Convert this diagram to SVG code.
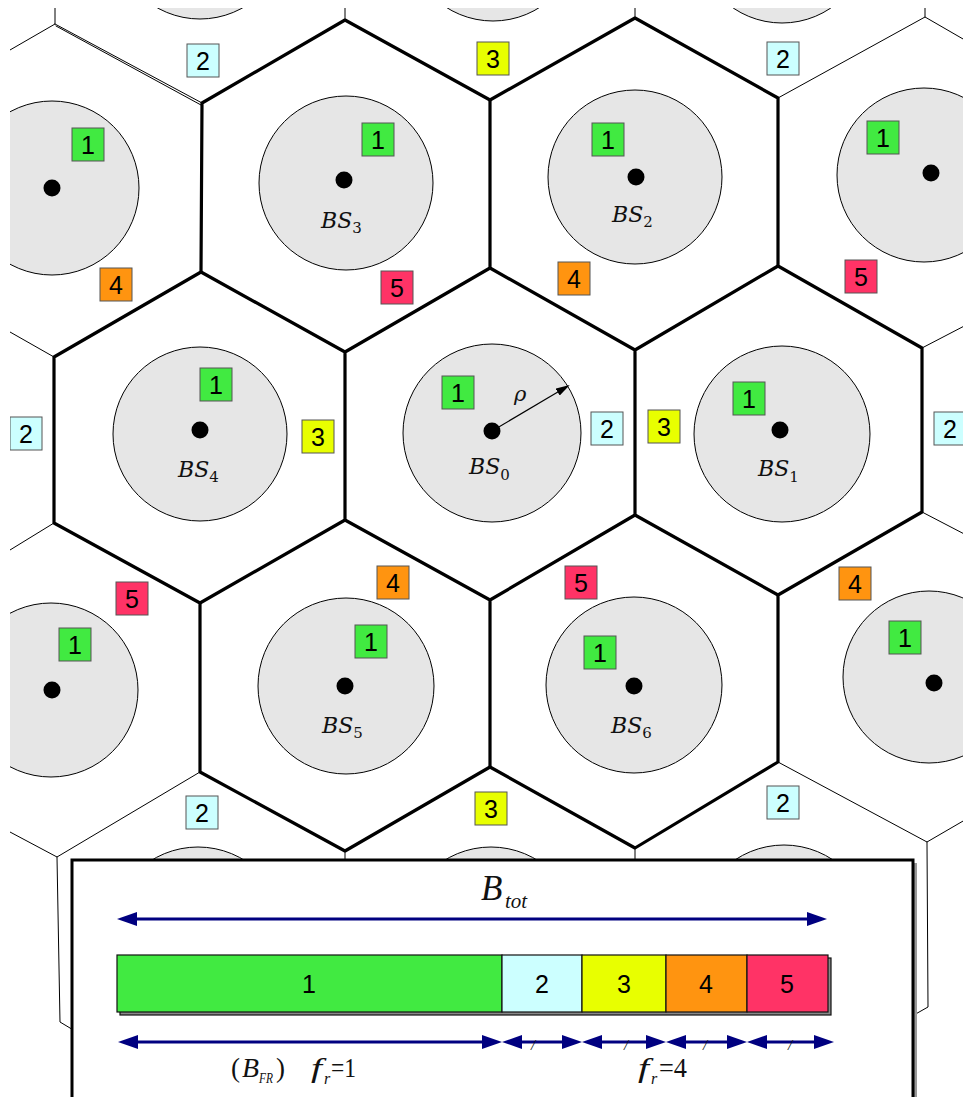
<svg xmlns="http://www.w3.org/2000/svg" width="963" height="1097" viewBox="0 0 963 1097">
<style>
.cell{fill:#e6e6e6;stroke:#000;stroke-width:1}
.dot{fill:#000}
.thick{fill:none;stroke:#000;stroke-width:3.2;stroke-linejoin:round;stroke-linecap:round}
.thin{fill:none;stroke:#000;stroke-width:1;stroke-linecap:round}
.sq rect{stroke:#555;stroke-width:1}
.sq text{font-family:"Liberation Sans",Arial,sans-serif;font-size:25px;text-anchor:middle;fill:#000}
.c1{fill:#41ea41}.c2{fill:#ccffff}.c3{fill:#e8ff00}.c4{fill:#ff9410}.c5{fill:#ff3366}
.bs{font-family:"DejaVu Serif",serif;font-size:22px;font-style:italic;fill:#111}
.bs tspan{font-style:normal;font-size:15px}
.nav{stroke:#000080;stroke-width:3;fill:none}
.serif{font-family:"Liberation Serif","Times New Roman",serif;fill:#111}
.bar rect{stroke:#111;stroke-width:1.2}
.bar text{font-family:"Liberation Sans",Arial,sans-serif;font-size:25px;text-anchor:middle;fill:#000}
</style>
<defs>
<clipPath id="clip"><rect x="10" y="8" width="953" height="1089"/></clipPath>
<marker id="na" viewBox="0 0 20 14" refX="10" refY="7" markerWidth="20" markerHeight="14" markerUnits="userSpaceOnUse" orient="auto-start-reverse"><path d="M0,0 L20,7 L0,14 Z" fill="#000080"/></marker>
<marker id="ka" viewBox="0 0 14 8" refX="12" refY="4" markerWidth="14" markerHeight="8" markerUnits="userSpaceOnUse" orient="auto"><path d="M0,0 L14,4 L0,8 Z" fill="#000"/></marker>
</defs>
<rect width="963" height="1097" fill="#fff"/>
<g clip-path="url(#clip)">
<g id="cells">
<g id="cell-top-1"><circle class="cell" cx="200" cy="-68" r="87"/></g>
<g id="cell-top-2"><circle class="cell" cx="493" cy="-66" r="87"/></g>
<g id="cell-top-3"><circle class="cell" cx="782" cy="-64" r="87"/></g>
<g id="cell-r2-left"><circle class="cell" cx="52" cy="188" r="87"/><circle class="dot" cx="52" cy="188" r="8.5"/></g>
<g id="BS3"><circle class="cell" cx="346" cy="183" r="87"/><circle class="dot" cx="344" cy="180" r="8.5"/><text class="bs" x="321" y="228">BS<tspan dy="5">3</tspan></text></g>
<g id="BS2"><circle class="cell" cx="635" cy="177" r="87"/><circle class="dot" cx="636" cy="177" r="8.5"/><text class="bs" x="612" y="222">BS<tspan dy="5">2</tspan></text></g>
<g id="cell-r2-right"><circle class="cell" cx="924" cy="175" r="87"/><circle class="dot" cx="931" cy="173" r="8.5"/></g>
<g id="BS4"><circle class="cell" cx="200" cy="434" r="87"/><circle class="dot" cx="200" cy="430" r="8.5"/><text class="bs" x="178" y="477">BS<tspan dy="5">4</tspan></text></g>
<g id="BS0"><circle class="cell" cx="492" cy="433" r="89"/><circle class="dot" cx="492" cy="431" r="8.5"/><text class="bs" x="469" y="474">BS<tspan dy="6">0</tspan></text></g>
<g id="BS1"><circle class="cell" cx="782" cy="434" r="88"/><circle class="dot" cx="780" cy="430" r="8.5"/><text class="bs" x="758" y="476">BS<tspan dy="6">1</tspan></text></g>
<g id="cell-r4-left"><circle class="cell" cx="51" cy="690" r="87"/><circle class="dot" cx="52" cy="690" r="8.5"/></g>
<g id="BS5"><circle class="cell" cx="346" cy="686" r="88"/><circle class="dot" cx="345" cy="686" r="8.5"/><text class="bs" x="322" y="733">BS<tspan dy="5">5</tspan></text></g>
<g id="BS6"><circle class="cell" cx="634" cy="685" r="88"/><circle class="dot" cx="634" cy="686" r="8.5"/><text class="bs" x="611" y="733">BS<tspan dy="5">6</tspan></text></g>
<g id="cell-r4-right"><circle class="cell" cx="929" cy="677" r="86"/><circle class="dot" cx="934" cy="683" r="8.5"/></g>
<g id="cell-bot-1"><circle class="cell" cx="198" cy="935" r="88"/></g>
<g id="cell-bot-2"><circle class="cell" cx="491" cy="935" r="88"/></g>
<g id="cell-bot-3"><circle class="cell" cx="784" cy="933" r="88"/></g>
</g>
<g id="connectors">
<path class="thin" d="M10,50 L55,24 L55,4 M55,24 L202,103 M56,26 L201,105 M345,20 L345,4 M635,18 L635,4 M925,17 L925,4 M778,98 L925,17 L970,43 M54,357 L10,332 M54,523 L10,550 M922,348 L970,323 M922,512 L970,537"/>
<path class="thin" d="M200,772 L57,857 L10,832 M57,857 L60,1022 L80,1034 M345,851 L345,870 M635,848 L635,870 M778,762 L927,842 L970,817 M927,842 L928,1007 L905,1020"/>
<path class="thick" d="M202,103 L345,20 L490,100 L635,18 L778,98 L778,266 L922,348 L922,512 L778,595 L778,762 L635,848 L490,767 L345,851 L200,772 L200,603 L54,523 L54,357 L201,272 L202,103"/>
<path class="thick" d="M490,100 L490,268 L345,352 L201,272 M490,268 L635,350 L778,266 M345,352 L345,520 L200,603 M635,350 L635,515 L778,595 M345,520 L490,600 L635,515 M490,600 L490,767"/>
</g>
<g id="labels">
<g class="sq"><rect class="c2" x="187" y="44" width="32" height="33"/><text x="203" y="70">2</text></g>
<g class="sq"><rect class="c3" x="477" y="42" width="32" height="33"/><text x="493" y="68">3</text></g>
<g class="sq"><rect class="c2" x="767" y="42" width="32" height="33"/><text x="783" y="68">2</text></g>
<g class="sq"><rect class="c1" x="72" y="128" width="32" height="33"/><text x="88" y="154">1</text></g>
<g class="sq"><rect class="c1" x="362" y="123" width="32" height="33"/><text x="378" y="149">1</text></g>
<g class="sq"><rect class="c1" x="592" y="123" width="32" height="33"/><text x="608" y="149">1</text></g>
<g class="sq"><rect class="c1" x="867" y="121" width="32" height="33"/><text x="883" y="147">1</text></g>
<g class="sq"><rect class="c4" x="100" y="268" width="32" height="33"/><text x="116" y="294">4</text></g>
<g class="sq"><rect class="c5" x="381" y="271" width="32" height="33"/><text x="397" y="297">5</text></g>
<g class="sq"><rect class="c4" x="558" y="262" width="32" height="33"/><text x="574" y="288">4</text></g>
<g class="sq"><rect class="c5" x="845" y="260" width="32" height="33"/><text x="861" y="286">5</text></g>
<g class="sq"><rect class="c2" x="10" y="417" width="32" height="33"/><text x="26" y="443">2</text></g>
<g class="sq"><rect class="c1" x="200" y="368" width="32" height="33"/><text x="216" y="394">1</text></g>
<g class="sq"><rect class="c3" x="302" y="420" width="32" height="33"/><text x="318" y="446">3</text></g>
<g class="sq"><rect class="c1" x="442" y="376" width="32" height="33"/><text x="458" y="402">1</text></g>
<g class="sq"><rect class="c2" x="591" y="412" width="32" height="33"/><text x="607" y="438">2</text></g>
<g class="sq"><rect class="c3" x="648" y="410" width="32" height="33"/><text x="664" y="436">3</text></g>
<g class="sq"><rect class="c1" x="733" y="382" width="32" height="33"/><text x="749" y="408">1</text></g>
<g class="sq"><rect class="c2" x="934" y="412" width="32" height="33"/><text x="950" y="438">2</text></g>
<g class="sq"><rect class="c5" x="116" y="582" width="32" height="33"/><text x="132" y="608">5</text></g>
<g class="sq"><rect class="c1" x="59" y="628" width="32" height="33"/><text x="75" y="654">1</text></g>
<g class="sq"><rect class="c4" x="377" y="566" width="32" height="33"/><text x="393" y="592">4</text></g>
<g class="sq"><rect class="c1" x="355" y="625" width="32" height="33"/><text x="371" y="651">1</text></g>
<g class="sq"><rect class="c5" x="565" y="566" width="32" height="33"/><text x="581" y="592">5</text></g>
<g class="sq"><rect class="c1" x="584" y="636" width="32" height="33"/><text x="600" y="662">1</text></g>
<g class="sq"><rect class="c4" x="839" y="567" width="32" height="33"/><text x="855" y="593">4</text></g>
<g class="sq"><rect class="c1" x="889" y="621" width="32" height="33"/><text x="905" y="647">1</text></g>
<g class="sq"><rect class="c2" x="186" y="796" width="32" height="33"/><text x="202" y="822">2</text></g>
<g class="sq"><rect class="c3" x="475" y="792" width="32" height="33"/><text x="491" y="818">3</text></g>
<g class="sq"><rect class="c2" x="767" y="786" width="32" height="33"/><text x="783" y="812">2</text></g>
</g>
<g id="rho">
<line x1="492" y1="431" x2="568" y2="386" stroke="#000" stroke-width="1.2" marker-end="url(#ka)"/>
<text x="514" y="401" font-family="DejaVu Serif,serif" font-style="italic" font-size="21" fill="#111">ρ</text>
</g>
</g>
<g id="legend">
<rect x="75" y="863" width="842" height="240" fill="#999"/>
<rect x="72" y="860" width="841" height="240" fill="#fff" stroke="#000" stroke-width="3"/>
<text class="serif" x="481" y="900" font-size="35" font-style="italic">B</text>
<text class="serif" x="505" y="908" font-size="21" font-style="italic">tot</text>
<line class="nav" x1="127" y1="919" x2="817" y2="919" marker-start="url(#na)" marker-end="url(#na)"/>
<g class="bar">
<rect x="120" y="958" width="711" height="57" fill="#888" stroke="none"/>
<rect class="c1" x="117" y="955" width="385" height="57"/><text x="309" y="993">1</text>
<rect class="c2" x="502" y="955" width="80" height="57"/><text x="542" y="993">2</text>
<rect class="c3" x="582" y="955" width="84" height="57"/><text x="624" y="993">3</text>
<rect class="c4" x="666" y="955" width="81" height="57"/><text x="706" y="993">4</text>
<rect class="c5" x="747" y="955" width="81" height="57"/><text x="787" y="993">5</text>
</g>
<line class="nav" x1="128" y1="1042" x2="492" y2="1042" marker-start="url(#na)" marker-end="url(#na)"/>
<line class="nav" x1="512" y1="1042" x2="572" y2="1042" marker-start="url(#na)" marker-end="url(#na)"/>
<line class="nav" x1="592" y1="1042" x2="656" y2="1042" marker-start="url(#na)" marker-end="url(#na)"/>
<line class="nav" x1="676" y1="1042" x2="737" y2="1042" marker-start="url(#na)" marker-end="url(#na)"/>
<line class="nav" x1="757" y1="1042" x2="824" y2="1042" marker-start="url(#na)" marker-end="url(#na)"/>
<g class="serif" font-size="15" font-style="italic">
<text x="531" y="1050">/</text><text x="624" y="1050">/</text><text x="703" y="1050">/</text><text x="788" y="1050">/</text>
</g>
<g class="serif" font-size="28">
<text x="231" y="1077" textLength="9" lengthAdjust="spacingAndGlyphs">(</text>
<text x="242" y="1077" font-style="italic" textLength="17" lengthAdjust="spacingAndGlyphs">B</text>
<text x="259" y="1083" font-size="15" font-style="italic" textLength="14" lengthAdjust="spacingAndGlyphs">FR</text>
<text x="276" y="1077" textLength="9" lengthAdjust="spacingAndGlyphs">)</text>
<text x="311" y="1077" font-style="italic" textLength="11" lengthAdjust="spacingAndGlyphs">f</text>
<text x="324" y="1084" font-size="16" font-style="italic">r</text>
<text x="331" y="1077" textLength="25" lengthAdjust="spacingAndGlyphs">=1</text>
<text x="638" y="1077" font-style="italic" textLength="11" lengthAdjust="spacingAndGlyphs">f</text>
<text x="651" y="1084" font-size="16" font-style="italic">r</text>
<text x="659" y="1077" textLength="28" lengthAdjust="spacingAndGlyphs">=4</text>
</g>
</g>
</svg>
